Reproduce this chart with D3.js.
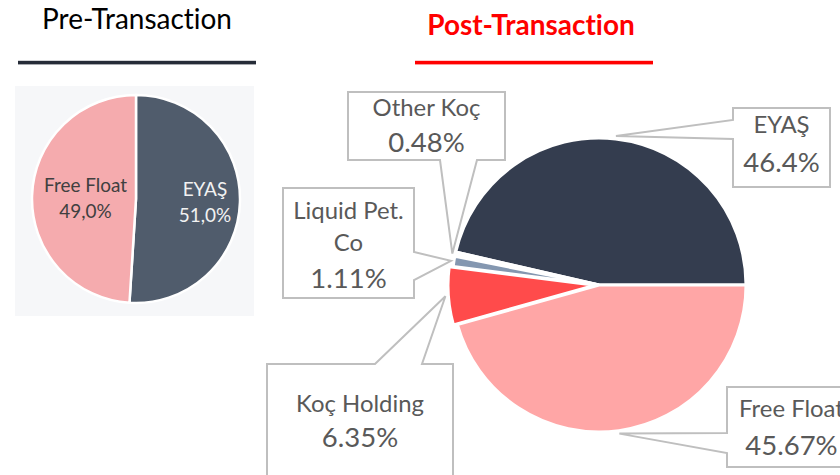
<!DOCTYPE html>
<html>
<head>
<meta charset="utf-8">
<script src="https://cdn.jsdelivr.net/npm/d3@7"></script>
<style>
  html, body { margin: 0; padding: 0; background: #ffffff; }
  svg { display: block; }
  text { font-family: Lato, "Open Sans", sans-serif; font-variant-ligatures: none; font-feature-settings: "liga" 0, "clig" 0; }
</style>
</head>
<body>
<svg id="chart" width="840" height="475"></svg>
<script>
// ---------------- DATA ----------------
const preCategories = ["EYAŞ", "Free Float"];
const preValues = [51.0, 49.0];
const preValueLabels = ["51,0%", "49,0%"];

const postCategories = ["EYAŞ", "Other Koç", "Liquid Pet. Co", "Koç Holding", "Free Float"];
const postValues = [46.4, 0.48, 1.11, 6.35, 45.67];
const postValueLabels = ["46.4%", "0.48%", "1.11%", "6.35%", "45.67%"];

const titles = ["Pre-Transaction", "Post-Transaction"];

// ---------------- STYLE / LAYOUT ----------------
const preColors = { "EYAŞ": "#505c6c", "Free Float": "#f5abae" };
const preTextColors = { "EYAŞ": "#f2f2f2", "Free Float": "#404040" };
const postColors = {
  "EYAŞ": "#343d4f", "Other Koç": "#ffffff", "Liquid Pet. Co": "#8497b0",
  "Koç Holding": "#ff4b4b", "Free Float": "#ffa6a6"
};

const svg = d3.select("#chart");

// font scale: match Calibri-like metrics with installed font
const probe = svg.append("text").attr("font-size", 100).text("Koç Holding");
const fscale = 483 / probe.node().getComputedTextLength();
probe.remove();
const fs = s => s * fscale;

// ---------------- TITLES ----------------
svg.append("text").attr("x", 137).attr("y", 29).attr("text-anchor", "middle")
  .attr("font-size", fs(31)).attr("fill", "#000").text(titles[0]);
svg.append("rect").attr("x", 18).attr("y", 60.8).attr("width", 238).attr("height", 3.6).attr("fill", "#262c38");

svg.append("text").attr("x", 531).attr("y", 35).attr("text-anchor", "middle")
  .attr("font-size", fs(31)).attr("font-weight", "bold").attr("fill", "#ff0000").text(titles[1]);
svg.append("rect").attr("x", 415).attr("y", 60.8).attr("width", 238).attr("height", 3.6).attr("fill", "#ff0000");

// ---------------- PRE PIE ----------------
svg.append("rect").attr("x", 15).attr("y", 86).attr("width", 239).attr("height", 230).attr("fill", "#f6f7f9");

const preCx = 136, preCy = 199, preR = 104;
const prePie = d3.pie().sort(null).value(d => d.value).startAngle(0).endAngle(2 * Math.PI);
const preData = prePie(preCategories.map((c, i) => ({ cat: c, value: preValues[i], label: preValueLabels[i] })));
const preArc = d3.arc().innerRadius(0).outerRadius(preR);
const preG = svg.append("g").attr("transform", `translate(${preCx},${preCy})`);
preG.selectAll("path").data(preData).join("path")
  .attr("d", preArc)
  .attr("fill", d => preColors[d.data.cat])
  .attr("stroke", "#ffffff").attr("stroke-width", 2.5);

const preLabelRadius = { "EYAŞ": 69, "Free Float": 50.5 };
preData.forEach(d => {
  const a = (d.startAngle + d.endAngle) / 2;
  const rr = preLabelRadius[d.data.cat];
  const x = rr * Math.sin(a), y = -rr * Math.cos(a);
  const t = preG.append("text").attr("text-anchor", "middle").attr("fill", preTextColors[d.data.cat])
    .attr("font-size", fs(21));
  t.append("tspan").attr("x", x).attr("y", y - 5).text(d.data.cat);
  t.append("tspan").attr("x", x).attr("y", y + 21).text(d.data.label);
});

// ---------------- POST PIE ----------------
const cx = 599, cy = 285, R = 147;
const postPie = d3.pie().sort(null).value(d => d.value)
  .startAngle(Math.PI / 2).endAngle(Math.PI / 2 - 2 * Math.PI);
const postData = postPie(postCategories.map((c, i) => ({ cat: c, value: postValues[i], label: postValueLabels[i] })));
const postArc = d3.arc().innerRadius(0).outerRadius(R);
const explode = { "Koç Holding": 4 };
const postG = svg.append("g").attr("transform", `translate(${cx},${cy})`);
postG.selectAll("path").data(postData).join("path")
  .attr("d", postArc)
  .attr("transform", d => {
    const e = explode[d.data.cat] || 0;
    const a = (d.startAngle + d.endAngle) / 2;
    return `translate(${e * Math.sin(a)},${-e * Math.cos(a)})`;
  })
  .attr("fill", d => postColors[d.data.cat])
  .attr("stroke", "#ffffff").attr("stroke-width", 3);

// callouts
const callouts = {
  "Other Koç":      { x: 348, y: 92,  w: 157, h: 68,  side: "bottom", b1: 440, b2: 477, lines: ["Other Koç"], ly: [24], ny: 60 },
  "Liquid Pet. Co": { x: 283, y: 188, w: 131, h: 110, side: "right",  b1: 252, b2: 280, lines: ["Liquid Pet.", "Co"], ly: [31, 62.7], ny: 100 },
  "Koç Holding":    { x: 267, y: 364, w: 186, h: 140, side: "top",    b1: 375, b2: 422, lines: ["Koç Holding"], ly: [47.7], ny: 82.7 },
  "EYAŞ":           { x: 733, y: 108, w: 97,  h: 79,  side: "left",   b1: 120, b2: 139, lines: ["EYAŞ"], ly: [25], ny: 63.7 },
  "Free Float":     { x: 727, y: 387, w: 129, h: 80,  side: "left",   b1: 433, b2: 453, lines: ["Free Float"], ly: [29.7], ny: 68 }
};
const tipR = R + 3;
const calloutG = svg.append("g");
postData.forEach(d => {
  const c = callouts[d.data.cat];
  const a = (d.startAngle + d.endAngle) / 2;
  const e = explode[d.data.cat] || 0;
  const tx = cx + (tipR + e) * Math.sin(a), ty = cy - (tipR + e) * Math.cos(a);
  const x0 = c.x, y0 = c.y, x1 = c.x + c.w, y1 = c.y + c.h;
  let p;
  if (c.side === "bottom") {
    p = `M${x0},${y0}H${x1}V${y1}H${c.b2}L${tx},${ty}L${c.b1},${y1}H${x0}Z`;
  } else if (c.side === "top") {
    p = `M${x0},${y0}H${c.b1}L${tx},${ty}L${c.b2},${y0}H${x1}V${y1}H${x0}Z`;
  } else if (c.side === "right") {
    p = `M${x0},${y0}H${x1}V${c.b1}L${tx},${ty}L${x1},${c.b2}V${y1}H${x0}Z`;
  } else {
    p = `M${x0},${y0}H${x1}V${y1}H${x0}V${c.b2}L${tx},${ty}L${x0},${c.b1}Z`;
  }
  calloutG.append("path").attr("d", p).attr("fill", "#ffffff")
    .attr("stroke", "#bfbfbf").attr("stroke-width", 2).attr("stroke-linejoin", "miter");
  const mx = c.x + c.w / 2;
  const t = calloutG.append("text").attr("text-anchor", "middle").attr("fill", "#595959");
  c.lines.forEach((ln, i) => {
    t.append("tspan").attr("x", mx).attr("y", c.y + c.ly[i]).attr("font-size", fs(26.5)).text(ln);
  });
  t.append("tspan").attr("x", mx).attr("y", c.y + c.ny).attr("font-size", fs(30.5)).text(d.data.label);
});
</script>
</body>
</html>
